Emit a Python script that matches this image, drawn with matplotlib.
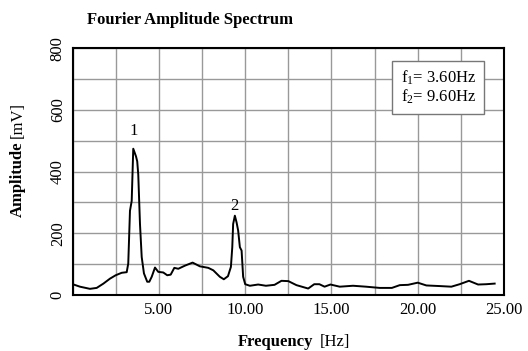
import matplotlib
matplotlib.use('Agg')
import matplotlib.pyplot as plt

plt.rcParams['font.family'] = ['Liberation Serif', 'DejaVu Serif']
plt.rcParams['mathtext.fontset'] = 'custom'
plt.rcParams['mathtext.rm'] = 'Liberation Serif'

# Spectrum (Hz, mV)
freq = [0.0, 0.42, 1.0, 1.39, 1.78, 2.16, 2.49, 2.84, 3.13, 3.22, 3.32, 3.42,
        3.51, 3.67, 3.74, 3.80, 3.90, 4.0, 4.13, 4.32, 4.44, 4.58, 4.77, 4.96,
        5.25, 5.48, 5.68, 5.89, 6.12, 6.5, 6.95, 7.37, 7.86, 8.15, 8.53, 8.76,
        9.0, 9.17, 9.25, 9.3, 9.4, 9.5, 9.59, 9.69, 9.79, 9.88, 10.0, 10.27,
        10.75, 11.2, 11.7, 12.1, 12.5, 12.97, 13.65, 14.0, 14.3, 14.6, 14.94,
        15.48, 16.25, 17.0, 17.8, 18.5, 18.96, 19.44, 20.0, 20.5, 21.27, 21.95,
        22.43, 22.97, 23.5, 23.97, 24.46]
amp = [35, 27, 20, 23, 37, 53, 64, 72, 74, 102, 273, 305,
       474, 449, 433, 390, 230, 123, 70, 43, 43, 59, 89, 75,
       73, 64, 66, 88, 85, 95, 105, 93, 88, 80, 59, 51,
       61, 91, 155, 230, 257, 235, 209, 155, 144, 59, 35, 30,
       34, 30, 33, 46, 45, 32, 21, 35, 35, 27, 34,
       27, 30, 27, 23, 23, 32, 33, 40, 31, 29, 27,
       35, 46, 34, 35, 37]

peak_labels = ['1', '2']
peak_x = [3.51, 9.4]
peak_y = [530, 289]

fig = plt.figure(figsize=(5.28, 3.51), dpi=100)
ax = fig.add_axes([0.1377, 0.1595, 0.8168, 0.7035])

ax.plot(freq, amp, color='black', linewidth=1.4)
for lab, px, py in zip(peak_labels, peak_x, peak_y):
    ax.text(px, py, lab, ha='center', va='center', fontsize=12)

ax.set_xlim(0, 25)
ax.set_ylim(0, 800)
ax.set_xticks([2.5 * i for i in range(11)])
ax.set_xticklabels(['' if i % 2 else ('%.2f' % (2.5 * i) if i else '') for i in range(11)])
ax.set_yticks([100 * i for i in range(9)])
ax.set_yticklabels(['%d' % (100 * i) if i % 2 == 0 else '' for i in range(9)],
                   rotation=90, va='center')
ax.tick_params(length=0, labelsize=12, pad=5)
ax.grid(True, color='#999999', linewidth=1.0)
for s in ax.spines.values():
    s.set_linewidth(1.5)

ax.text(0.848, 0.915, '$\\mathregular{f_1}$= 3.60Hz\n$\\mathregular{f_2}$= 9.60Hz',
        transform=ax.transAxes, ha='center', va='top', fontsize=12,
        linespacing=1.0,
        bbox=dict(boxstyle='square,pad=0.5', facecolor='white',
                  edgecolor='#777777', linewidth=1.0))

fig.text(0.165, 0.943, 'Fourier Amplitude Spectrum', fontsize=12,
         fontweight='bold', ha='left', va='center')
fig.text(0.593, 0.026, 'Frequency', fontsize=12, fontweight='bold',
         ha='right', va='center')
fig.text(0.606, 0.026, '[Hz]', fontsize=12, ha='left', va='center')
fig.text(0.034, 0.596, 'Amplitude', fontsize=12, fontweight='bold',
         rotation=90, ha='center', va='top')
fig.text(0.034, 0.608, '[mV]', fontsize=12, rotation=90,
         ha='center', va='bottom')

fig.savefig('out.png', dpi=100)
